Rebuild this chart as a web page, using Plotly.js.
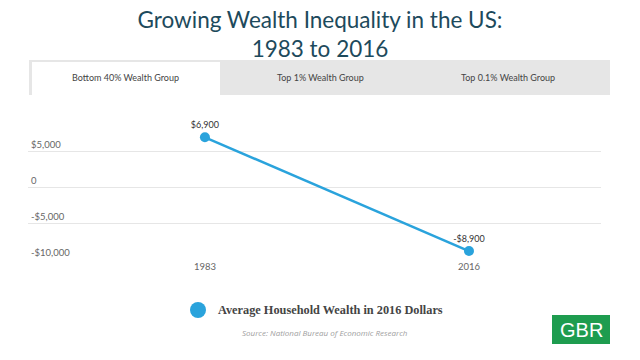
<!DOCTYPE html>
<html>
<head>
<meta charset="utf-8">
<script src="https://cdn.plot.ly/plotly-3.0.1.min.js"></script>
<style>html,body{margin:0;padding:0;background:#fff;}#chart{width:640px;height:360px;}</style>
</head>
<body>
<div id="chart"></div>
<script>
const years = ["1983", "2016"];
const wealth = [6900, -8900];
const valueLabels = ["$6,900", "-$8,900"];
const yTickVals = [-10000, -5000, 0, 5000];
const yTickText = ["-$10,000", "-$5,000", "0", "$5,000"];
const tabs = ["Bottom 40% Wealth Group", "Top 1% Wealth Group", "Top 0.1% Wealth Group"];
const seriesName = "Average Household Wealth in 2016 Dollars";
const source = "Source: National Bureau of Economic Research";

const blue = "#2aa3dc";
const trace = {
  x: years, y: wealth, type: "scatter", mode: "lines+markers+text",
  text: valueLabels, textposition: "top center",
  textfont: {family: "Lato, 'Open Sans', sans-serif", size: 9, color: "#333"},
  line: {color: blue, width: 2.5},
  marker: {color: blue, size: 10},
  showlegend: false, hoverinfo: "none", cliponaxis: false
};

// plot area in pixels: x 28..601, y 110..259
const L = 28, R = 601, T = 110, B = 259;
const px = v => (v - L) / (R - L);
const py = v => (B - v) / (B - T);

const tabCenters = [125, 320, 508];
const annotations = [
  {text: seriesName, xref: "paper", yref: "paper", x: px(216), y: py(310),
   xanchor: "left", yanchor: "middle", showarrow: false,
   font: {family: "'Liberation Serif', serif", size: 12.3, color: "#444", weight: "bold"}},
  {text: source, xref: "paper", yref: "paper", x: px(325), y: py(332),
   xanchor: "center", yanchor: "middle", showarrow: false,
   font: {family: "'Open Sans', sans-serif", size: 8, color: "#a0a0a0", style: "italic"}},
  {text: "GBR", xref: "paper", yref: "paper", x: px(581), y: py(330),
   xanchor: "center", yanchor: "middle", showarrow: false,
   font: {family: "'Liberation Sans', Arial, sans-serif", size: 20, color: "#fff"}}
];
tabs.forEach((t, i) => annotations.push({
  text: t, xref: "paper", yref: "paper", x: px(tabCenters[i]), y: py(77),
  xanchor: "center", yanchor: "middle", showarrow: false,
  font: {family: "Lato, 'Open Sans', sans-serif", size: 9, color: "#444"}
}));

const shapes = [
  {type: "rect", xref: "paper", yref: "paper", x0: px(29), x1: px(610), y0: py(95), y1: py(60),
   fillcolor: "#e6e6e6", line: {width: 0}, layer: "below"},
  {type: "rect", xref: "paper", yref: "paper", x0: px(32), x1: px(220), y0: py(96), y1: py(62),
   fillcolor: "#ffffff", line: {width: 0}, layer: "below"},
  {type: "circle", xref: "paper", yref: "paper", x0: px(190), x1: px(206), y0: py(318), y1: py(302),
   fillcolor: blue, line: {width: 0}},
  {type: "rect", xref: "paper", yref: "paper", x0: px(552), x1: px(610), y0: py(344), y1: py(315),
   fillcolor: "#1e9c4f", line: {width: 0}}
];

const layout = {
  width: 640, height: 360,
  margin: {l: L, r: 640 - R, t: T, b: 360 - B},
  paper_bgcolor: "#fff", plot_bgcolor: "#fff",
  title: {text: "Growing Wealth Inequality in the US:<br>1983 to 2016", x: 0.5, xanchor: "center",
    yref: "container", y: 1 - 28 / 360, yanchor: "middle",
    font: {family: "Lato, 'Open Sans', sans-serif", size: 22.5, color: "#1d4a5c"}},
  xaxis: {type: "category", range: [-0.67, 1.5], showgrid: false, zeroline: false, showline: false,
    ticks: "", tickfont: {family: "Lato, 'Open Sans', sans-serif", size: 9.5, color: "#666"}, fixedrange: true},
  yaxis: {range: [-10000, 10694], tickvals: yTickVals, ticktext: yTickText,
    ticklabelposition: "inside top", gridcolor: "#e6e6e6", gridwidth: 1, zeroline: false, showline: false,
    tickfont: {family: "Lato, 'Open Sans', sans-serif", size: 9.5, color: "#666"}, fixedrange: true},
  annotations: annotations, shapes: shapes
};
Plotly.newPlot("chart", [trace], layout, {displayModeBar: false, staticPlot: true});
</script>
</body>
</html>
